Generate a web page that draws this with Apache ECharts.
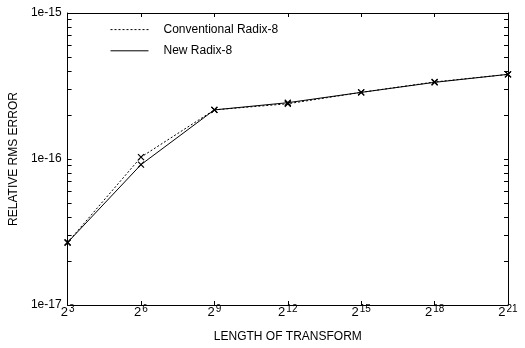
<!DOCTYPE html>
<html>
<head>
<meta charset="utf-8">
<script src="https://cdn.jsdelivr.net/npm/echarts@6/dist/echarts.min.js"></script>
<style>
  html, body { margin: 0; padding: 0; background: #fff; }
  #main { width: 525px; height: 348px; }
</style>
</head>
<body>
<div id="main"></div>
<script>
// exponents of the transform length, 2^n
const exponents = [3, 6, 9, 12, 15, 18, 21];
const conventional = [2.68e-17, 1.03e-16, 2.17e-16, 2.39e-16, 2.86e-16, 3.37e-16, 3.80e-16];
const newRadix = [2.68e-17, 0.915e-16, 2.17e-16, 2.43e-16, 2.86e-16, 3.35e-16, 3.80e-16];
const yMajor = [1e-17, 1e-16, 1e-15];
const yTicks = [];
for (let d = -17; d < -15; d++) {
  for (let m = 1; m <= 9; m++) yTicks.push(m * Math.pow(10, d));
}
yTicks.push(1e-15);

const font = "'Liberation Sans', Arial, sans-serif";
const xMark = "path://M0,0L10,10M10,0L0,10";

function yAxisCfg(pos, showLabels) {
  return {
    type: "log",
    logBase: 10,
    position: pos,
    min: 1e-17,
    max: 1e-15,
    axisLine: { show: true, lineStyle: { color: "#000", width: 1 } },
    axisTick: { show: true, inside: true, length: 4, customValues: yTicks, lineStyle: { color: "#000" } },
    axisLabel: {
      show: showLabels,
      customValues: yMajor,
      fontFamily: font,
      fontSize: 12,
      color: "#000",
      margin: 6,
      formatter: function (v) { return "1e" + Math.round(Math.log10(v)); }
    },
    splitLine: { show: false },
    name: showLabels ? "RELATIVE RMS ERROR" : "",
    nameLocation: "middle",
    nameGap: 39,
    nameTextStyle: { fontFamily: font, fontSize: 12, color: "#000" }
  };
}

function xAxisCfg(pos, showLabels) {
  return {
    type: "category",
    position: pos,
    data: exponents.map(String),
    boundaryGap: false,
    axisLine: { show: true, lineStyle: { color: "#000", width: 1 } },
    axisTick: { show: true, inside: true, length: 4, lineStyle: { color: "#000" } },
    axisLabel: {
      show: showLabels,
      margin: -1,
      color: "#000",
      formatter: function (v) { return "{b|2}{s|" + v + "}"; },
      rich: {
        b: { fontFamily: font, fontSize: 13, color: "#000", padding: [0, 0, 0, 0] },
        s: { fontFamily: font, fontSize: 10, color: "#000", padding: [0, 0, 6, 1] }
      }
    },
    splitLine: { show: false },
    name: showLabels ? "LENGTH OF TRANSFORM" : "",
    nameLocation: "middle",
    nameGap: 26,
    nameTextStyle: { fontFamily: font, fontSize: 12, color: "#000" }
  };
}

const option = {
  animation: false,
  backgroundColor: "#fff",
  grid: { left: 64, right: 17, top: 13, bottom: 41 },
  legend: {
    orient: "vertical",
    left: 110,
    top: 23,
    padding: 0,
    itemWidth: 38,
    itemHeight: 14,
    itemGap: 8,
    itemStyle: { opacity: 0 },
    lineStyle: { width: 1 },
    textStyle: { fontFamily: font, fontSize: 12, color: "#000", padding: [0, 0, 0, 10] },
    data: ["Conventional Radix-8", "New Radix-8"]
  },
  xAxis: [xAxisCfg("bottom", true), xAxisCfg("top", false)],
  yAxis: [yAxisCfg("left", true), yAxisCfg("right", false)],
  series: [
    {
      name: "Conventional Radix-8",
      type: "line",
      data: conventional,
      symbol: xMark,
      symbolSize: 6,
      itemStyle: { color: "#000", borderColor: "#000", borderWidth: 1.2 },
      lineStyle: { color: "#000", width: 1, type: [2, 2] }
    },
    {
      name: "New Radix-8",
      type: "line",
      data: newRadix,
      symbol: xMark,
      symbolSize: 6,
      itemStyle: { color: "#000", borderColor: "#000", borderWidth: 1.2 },
      lineStyle: { color: "#000", width: 1 }
    }
  ]
};

const chart = echarts.init(document.getElementById("main"));
chart.setOption(option);
</script>
</body>
</html>
